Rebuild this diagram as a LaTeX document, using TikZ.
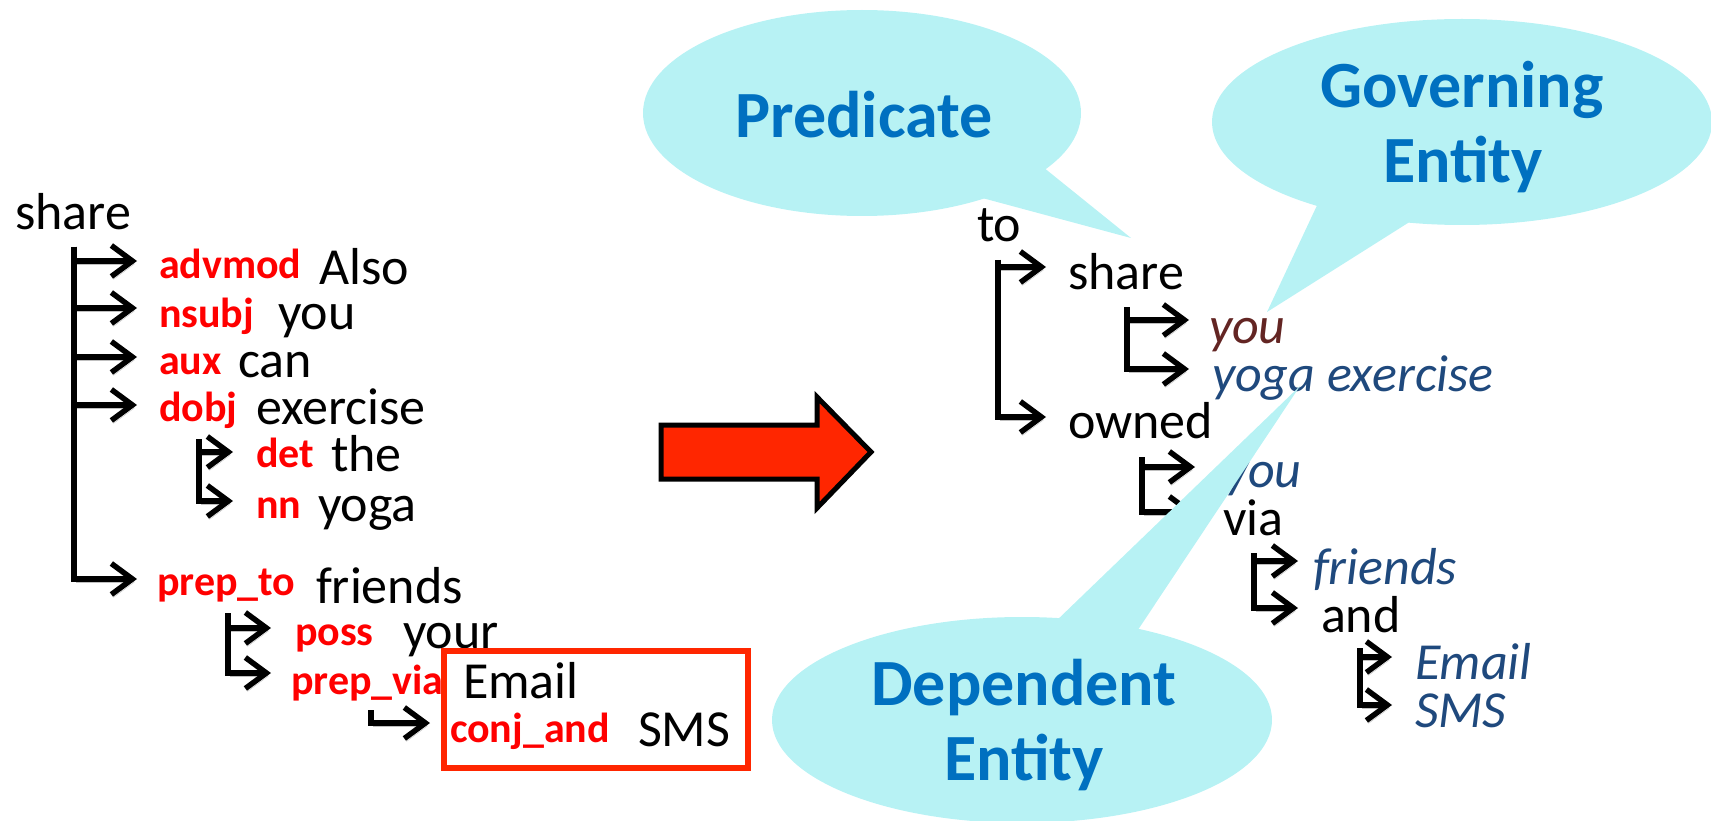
\documentclass[tikz,border=0pt]{standalone}
\usepackage{fontspec}
\setmainfont{Carlito}
\usetikzlibrary{arrows.meta,shapes.geometric}
\definecolor{labred}{RGB}{255,0,0}
\definecolor{entblue}{RGB}{31,73,125}
\definecolor{entbrown}{RGB}{99,37,35}
\definecolor{bubblefill}{RGB}{183,242,244}
\definecolor{bubbletext}{RGB}{0,112,192}
\definecolor{bigred}{RGB}{255,38,0}
\begin{document}
\begin{tikzpicture}[x=1pt,y=-1pt,
  word/.style={anchor=base west,inner sep=0pt,outer sep=0pt,font=\fontsize{52}{60}\selectfont},
  rel/.style={anchor=base west,inner sep=0pt,outer sep=0pt,text=labred,font=\fontsize{42}{50}\selectfont\bfseries},
  ent/.style={word,text=entblue,font=\fontsize{52}{60}\selectfont\itshape},
  gov/.style={word,text=entbrown,font=\fontsize{52}{60}\selectfont\itshape},
  dep/.style={line width=5.5pt,-{Straight Barb[length=21pt,width=31pt]},
    preaction={draw=black!25,transform canvas={shift={(2pt,-3pt)}}}},
  bubble/.style={ellipse,fill=bubblefill,inner sep=0pt,outer sep=0pt,minimum width=500pt,minimum height=206pt},
  bubbletxt/.style={anchor=base,inner sep=0pt,text=bubbletext,font=\fontsize{66}{76}\selectfont\bfseries},
]
\useasboundingbox (0,0) rectangle (1711,821);

% ---------- original dependency tree ----------
\node[word] (w-share) at (15,230) {share};
\coordinate (stemL) at (74,247);
\node[rel]  (r-advmod)   at (159,279) {advmod};
\node[word] (w-also)     at (319,284) {Also};
\node[rel]  (r-nsubj)    at (159,327) {nsubj};
\node[word] (w-you)      at (278,329) {you};
\node[rel]  (r-aux)      at (159,374) {aux};
\node[word] (w-can)      at (238,377) {can};
\node[rel]  (r-dobj)     at (159,421) {dobj};
\node[word] (w-exercise) at (256,424) {exercise};
\coordinate (stemD) at (199,439);
\node[rel]  (r-det)      at (256,467) {det};
\node[word] (w-the)      at (331,471) {the};
\node[rel]  (r-nn)       at (256,518) {nn};
\node[word] (w-yoga)     at (318,521) {yoga};
\node[rel]  (r-prepto)   at (157,595) {prep\_to};
\node[word] (w-friends)  at (316,603) {friends};
\coordinate (stemP) at (228,613);
\node[rel]  (r-poss)     at (295,645) {poss};
\node[word] (w-your)     at (403,648) {your};
\node[rel]  (r-prepvia)  at (291,694) {prep\_via};
\node[word] (w-email)    at (463,698) {Email};
\coordinate (stemV) at (371,710);
\node[rel]  (r-conj)     at (450,742) {conj\_and};
\node[word] (w-sms)      at (638,746) {SMS};
\draw[line width=5.5pt,draw=bigred] (444,651) rectangle (748,768);

\draw[dep] (stemL) |- ([shift={(-22pt,18pt)}]r-advmod.base west);
\draw[dep] (stemL) |- ([shift={(-22pt,19pt)}]r-nsubj.base west);
\draw[dep] (stemL) |- ([shift={(-22pt,17pt)}]r-aux.base west);
\draw[dep] (stemL) |- ([shift={(-22pt,16pt)}]r-dobj.base west);
\draw[dep] (stemL) |- ([shift={(-20pt,16pt)}]r-prepto.base west);
\draw[dep] (stemD) |- ([shift={(-23pt,15pt)}]r-det.base west);
\draw[dep] (stemD) |- ([shift={(-23pt,17pt)}]r-nn.base west);
\draw[dep] (stemP) |- ([shift={(-24pt,17pt)}]r-poss.base west);
\draw[dep] (stemP) |- ([shift={(-20pt,21pt)}]r-prepvia.base west);
\draw[dep] (stemV) |- ([shift={(-20pt,19pt)}]r-conj.base west);

% ---------- transformation arrow ----------
\draw[line width=5pt,fill=bigred,line join=miter]
  (661,425) -- (817,425) -- (817,397) -- (871,452) -- (817,508) -- (817,479) -- (661,479) -- cycle;

% ---------- callouts behind the tree ----------
\node[bubble,minimum width=438pt] (b-pred) at (862,113) {};
\coordinate (b-pred-tip) at (1131,238);
\fill[bubblefill] (b-pred.-17) -- (b-pred-tip) -- (b-pred.-35) -- (b-pred.center) -- cycle;
\node[bubbletxt] (t-pred) at (864,138) {Predicate};

\node[bubble] (b-gov) at (1462,122) {};
\coordinate (b-gov-tip) at (1267,312);
\fill[bubblefill] (b-gov.210.7) -- (b-gov-tip) -- (b-gov.242) -- (b-gov.center) -- cycle;
\node[bubbletxt] (t-gov1) at (1462,108) {Governing};
\node[bubbletxt] (t-gov2) at (1463,183) {Entity};

% ---------- extracted tuple tree ----------
\node[word] (t-to) at (977,242) {to};
\coordinate (stemR) at (998,260);
\node[word] (t-share)   at (1068,289) {share};
\node[word] (t-owned)   at (1068,438) {owned};
\coordinate (stemS) at (1127,307);
\node[gov]  (t-you)     at (1209,343) {you};
\node[ent]  (t-yoga)    at (1212,391) {yoga exercise};
\coordinate (stemO) at (1142,457);
\node[ent]  (t-you2)    at (1225,487) {you};
\node[word] (t-via)     at (1223,535) {via};
\coordinate (stemF) at (1254,553);
\node[ent]  (t-friends) at (1313,584) {friends};
\node[word] (t-and)     at (1321,632) {and};
\coordinate (stemA) at (1360,648);
\node[ent]  (t-email)   at (1415,679) {Email};
\node[ent]  (t-sms)     at (1415,727) {SMS};

\draw[dep] (stemR) |- ([shift={(-22pt,22pt)}]t-share.base west);
\draw[dep] (stemR) |- ([shift={(-22pt,21pt)}]t-owned.base west);
\draw[dep] (stemS) |- ([shift={(-20pt,23pt)}]t-you.base west);
\draw[dep] (stemS) |- ([shift={(-23pt,22pt)}]t-yoga.base west);
\draw[dep] (stemO) |- ([shift={(-30pt,20pt)}]t-you2.base west);
\draw[dep] (stemO) |- ([shift={(-28pt,23pt)}]t-via.base west);
\draw[dep] (stemF) |- ([shift={(-15pt,23pt)}]t-friends.base west);
\draw[dep] (stemF) |- ([shift={(-23pt,24pt)}]t-and.base west);
\draw[dep] (stemA) |- ([shift={(-23pt,22pt)}]t-email.base west);
\draw[dep] (stemA) |- ([shift={(-23pt,22pt)}]t-sms.base west);

% ---------- callout in front of the tree ----------
\node[bubble] (b-dep) at (1022,720) {};
\coordinate (b-dep-tip) at (1300,386);
\fill[bubblefill] (b-dep.70.7) -- (b-dep-tip) -- (b-dep.38) -- (b-dep.center) -- cycle;
\node[bubbletxt] (t-dep1) at (1024,705) {Dependent};
\node[bubbletxt] (t-dep2) at (1024,780) {Entity};
\end{tikzpicture}
\end{document}
